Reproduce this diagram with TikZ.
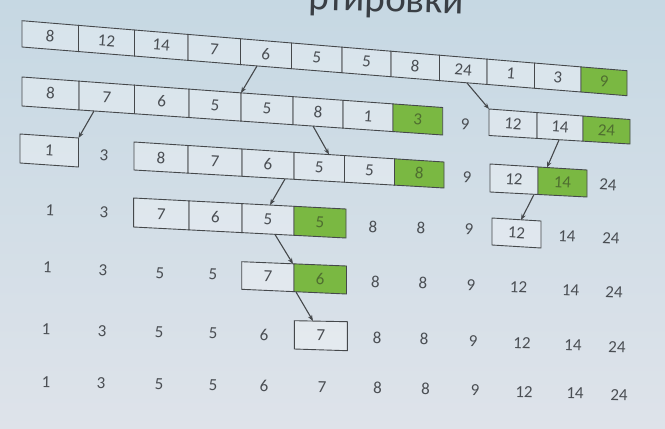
\documentclass[tikz,border=0pt]{standalone}
\usepackage{fontspec}
\setmainfont{Carlito}
\usetikzlibrary{arrows.meta}
\definecolor{bgtop}{HTML}{C6D8E3}
\definecolor{bgbot}{HTML}{DEE3EA}
\definecolor{ink}{HTML}{4A4E53}
\definecolor{titleink}{HTML}{3A3F45}
\definecolor{cellgreen}{HTML}{7AB842}
\definecolor{greenink}{HTML}{4F6E30}
\definecolor{edge}{HTML}{45484B}
\tikzset{
  num/.style={font=\fontsize{17}{17}\selectfont, text=ink, inner sep=0pt},
  cellline/.style={draw=edge, line width=0.9pt, line join=miter},
  plaincell/.style={cellline, fill=white, fill opacity=0.3},
  greencell/.style={cellline, fill=cellgreen},
  conn/.style={draw=edge, line width=1.1pt, -{Stealth[length=6pt,width=4.5pt]}},
}
% #1 name, #2 xl, #3 xr, #4 ytl, #5 ytr, #6 ybl, #7 ybr, #8 list rightx/label, #9 green index
\newcommand\cellrow[9]{%
  \pgfmathsetmacro\rowst{(#5-#4)/(#3-#2)}%
  \pgfmathsetmacro\rowsb{(#7-#6)/(#3-#2)}%
  \pgfmathsetmacro\rowang{-atan((\rowst+\rowsb)/2)}%
  \foreach \cx/\lab [count=\ci, remember=\cx as \px (initially #2)] in {#8} {%
    \pgfmathsetmacro\yta{#4+(\px-#2)*\rowst}%
    \pgfmathsetmacro\ytb{#4+(\cx-#2)*\rowst}%
    \pgfmathsetmacro\yba{#6+(\px-#2)*\rowsb}%
    \pgfmathsetmacro\ybb{#6+(\cx-#2)*\rowsb}%
    \pgfmathsetmacro\mx{(\px+\cx)/2}%
    \pgfmathsetmacro\my{(\yta+\ytb+\yba+\ybb)/4}%
    \ifnum\ci=#9\relax
      \path[greencell] (\px,\yta) -- (\cx,\ytb) -- (\cx,\ybb) -- (\px,\yba) -- cycle;
      \node[num, text=greenink, rotate=\rowang] (#1-\ci) at (\mx,\my) {\lab};
    \else
      \path[plaincell] (\px,\yta) -- (\cx,\ytb) -- (\cx,\ybb) -- (\px,\yba) -- cycle;
      \node[num, rotate=\rowang] (#1-\ci) at (\mx,\my) {\lab};
    \fi
  }%
}
\newcommand\freenums[3]{% #1 name, #2 angle, #3 list x/y/label
  \foreach \fx/\fy/\flab [count=\fidx] in {#3} {
    \node[num, rotate=#2] (#1-\fidx) at (\fx,\fy) {\flab};
  }%
}
\begin{document}
\begin{tikzpicture}[x=1pt, y=-1pt]
\useasboundingbox (0,0) rectangle (665,429);
\clip (0,0) rectangle (665,429);
\shade[top color=bgtop, bottom color=bgbot] (0,0) rectangle (665,429);

\node[anchor=base east, font=\fontsize{39}{39}\selectfont, text=titleink, inner sep=0pt, rotate=-1.5] (title) at (464,14) {ртировки};

% boxed rows
\cellrow{r1}{22}{627}{20.7}{70.7}{47}{95.7}{78.5/8,134.5/12,188/14,240.5/7,291.5/6,342/5,391/5,439.5/8,487/24,534.5/1,581/3,627/9}{12}
\cellrow{r2}{22}{442.7}{77}{107.5}{106}{135}{79/8,134.5/7,189/6,241/5,293/5,343/8,393/1,442.7/3}{8}
\cellrow{r2b}{489}{630}{109}{119.5}{135.5}{144}{537/12,583/14,630/24}{3}
\cellrow{r3a}{20}{78.5}{134}{138}{163}{167}{78.5/1}{0}
\cellrow{r3b}{134}{444}{142}{162}{170}{188}{188/8,242/7,294/6,344.5/5,394.5/5,444/8}{6}
\cellrow{r3c}{490}{587}{164}{170}{192}{197}{538/12,587/14}{2}
\cellrow{r4a}{133.6}{346}{198}{209}{227}{238}{189/7,242/6,294/5,346/5}{4}
\cellrow{r4b}{492}{541}{218}{221}{245}{248}{541/12}{0}
\cellrow{r5}{241.7}{346.5}{261.7}{266}{289.3}{294}{294/7,346.5/6}{2}
\cellrow{r6}{294.3}{347.3}{320.7}{321.7}{349}{350.7}{347.3/7}{0}

% free numbers
\freenums{f2}{-4.0}{465/124/9}
\freenums{f3}{-3.4}{104/155/3, 467/177/9, 608/185/24}
\freenums{f4}{-2.9}{50/210/1, 104/212/3, 373/227/8, 421/228/8, 469/229/9, 567/236/14, 611/238/24}
\freenums{f5}{-2.5}{47.5/267/1, 103/270/3, 160/273/5, 213/274/5, 375.5/282/8, 423/283/8, 471/285/9, 518.5/287/12, 570.6/290/14, 614/292/24}
\freenums{f6}{-1.8}{46/329/1, 102/331/3, 159/332/5, 213/333/5, 264/335/6, 377/338/8, 424/339/8, 473/341/9, 522/343/12, 573/345/14, 617/347/24}
\freenums{f7}{-1.3}{46/382/1, 101/383/3, 159/384/5, 213/385/5, 264/386/6, 322/387/7, 377.6/388/8, 425.5/389/8, 475/390/9, 524/392/12, 575/393/14, 619/395/24}

% arrow end points
\coordinate (a1s) at (257,66);    \coordinate (a1e) at (241,93);
\coordinate (a2s) at (467,83);    \coordinate (a2e) at (489,109);
\coordinate (a3s) at (94,111);    \coordinate (a3e) at (78.5,138);
\coordinate (a4s) at (313,126);   \coordinate (a4e) at (329,154.5);
\coordinate (a5s) at (559,140);   \coordinate (a5e) at (547,167.5);
\coordinate (a6s) at (285,179);   \coordinate (a6e) at (270,205);
\coordinate (a7s) at (534,194.5); \coordinate (a7e) at (521,220);
\coordinate (a8s) at (275,234.5); \coordinate (a8e) at (293,264);
\coordinate (a9s) at (296,292);   \coordinate (a9e) at (313,321);
\foreach \k in {1,...,9} { \draw[conn] (a\k s) -- (a\k e); }
\end{tikzpicture}
\end{document}
